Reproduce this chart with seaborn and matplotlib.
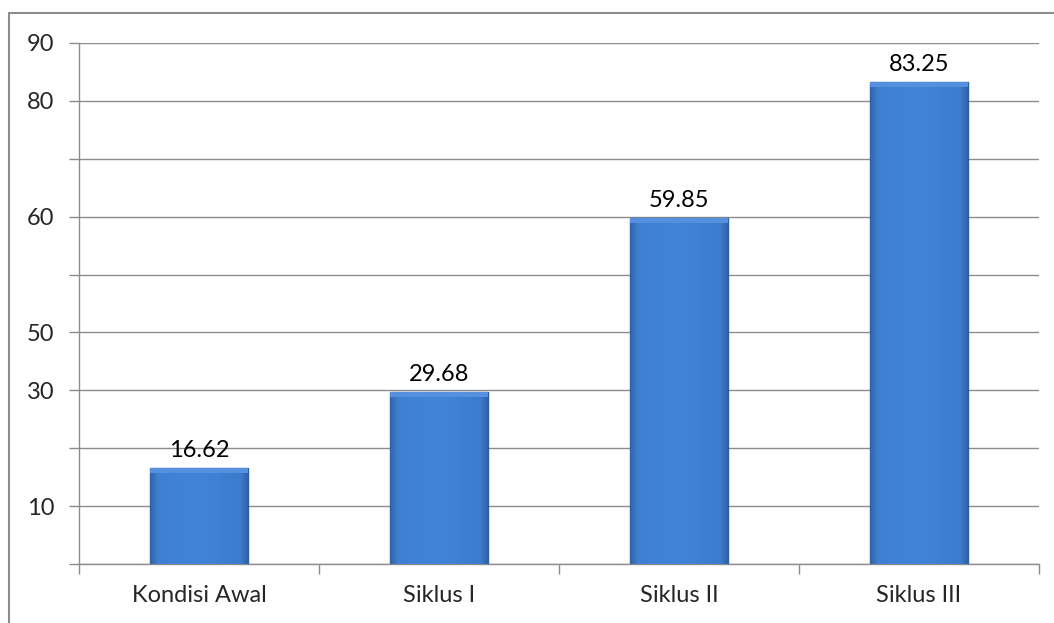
import numpy as np
import pandas as pd
import matplotlib.pyplot as plt
import seaborn as sns
from matplotlib.colors import LinearSegmentedColormap
from matplotlib.patches import Rectangle

categories = ['Kondisi Awal', 'Siklus I', 'Siklus II', 'Siklus III']
values = [16.62, 29.68, 59.85, 83.25]
ytick_pos = [0, 10, 20, 30, 40, 50, 60, 70, 80, 90]
ytick_labels = ['', '10', '', '30', '50', '', '60', '', '80', '90']

df = pd.DataFrame({'kategori': categories, 'nilai': values})

sns.set_style('white')
plt.rcParams['font.family'] = ['Lato', 'DejaVu Sans']
plt.rcParams['ytick.left'] = True
plt.rcParams['xtick.bottom'] = True

fig = plt.figure(figsize=(10.54, 6.23), dpi=100)
ax = fig.add_axes([0.075, 0.0947, 0.9108, 0.8363])

sns.barplot(data=df, x='kategori', y='nilai', color='#3d7ed2', width=0.41,
            edgecolor='#2f62a6', linewidth=1.0, saturation=1, ax=ax, zorder=3)

# gradient tipis biar mirip bevel excel
cmap = LinearSegmentedColormap.from_list('bev', [(0, '#3264aa'), (0.08, '#3f80d4'),
                                                 (0.5, '#4184d8'), (0.92, '#3c7bcd'), (1, '#2f5fa2')])
grad = np.linspace(0, 1, 200).reshape(1, -1)
for p in ax.patches:
    x0, y0 = p.get_x(), p.get_y()
    w, h = p.get_width(), p.get_height()
    im = ax.imshow(grad, cmap=cmap, aspect='auto', extent=[x0, x0 + w, y0, y0 + h], zorder=3.5)
    im.set_clip_path(p)
    ax.add_patch(Rectangle((x0, y0 + h - 0.9), w, 0.9, color='#5590de', zorder=3.6, lw=0))

for i, v in enumerate(values):
    ax.annotate(f'{v:.2f}', (i, v), xytext=(0, 5), textcoords='offset points',
                ha='center', va='bottom', fontsize=17, color='black')

ax.set_ylim(0, 90)
ax.set_xlim(-0.5, 3.5)
ax.set_yticks(ytick_pos)
ax.set_yticklabels(ytick_labels, fontsize=17)
ax.set_xticks(range(len(categories)))
ax.set_xticklabels(categories, fontsize=17)
ax.set_xticks([-0.5, 0.5, 1.5, 2.5, 3.5], minor=True)
ax.tick_params(axis='x', which='major', length=0, pad=15)
ax.tick_params(axis='x', which='minor', length=7, width=1, color='#8c8c8c', direction='out')
ax.tick_params(axis='y', which='major', length=7, width=1, color='#8c8c8c', direction='out', pad=11)
ax.set_xlabel('')
ax.set_ylabel('')

ax.grid(axis='y', color='#8c8c8c', linewidth=1, zorder=0)
ax.set_axisbelow(True)
for s in ['top', 'right']:
    ax.spines[s].set_visible(False)
for s in ['left', 'bottom']:
    ax.spines[s].set_color('#8c8c8c')
    ax.spines[s].set_linewidth(1)

# bingkai luar
fig.patches.append(Rectangle((9 / 1054, -0.1), 1.2, 1 - 13 / 623 + 0.1, transform=fig.transFigure,
                             fill=False, edgecolor='#8c8c8c', linewidth=1.5))

plt.savefig('out.png', dpi=100)
